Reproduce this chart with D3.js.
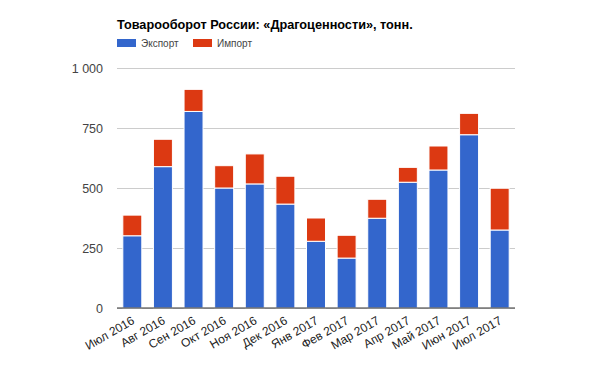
<!DOCTYPE html>
<html>
<head>
<meta charset="utf-8">
<script src="https://cdn.jsdelivr.net/npm/d3@7"></script>
<style>
  body { margin: 0; background: #fff; }
  svg { font-family: Arial, "Liberation Sans", sans-serif; }
</style>
</head>
<body>
<div id="chart"></div>
<script>
var months = ['Июл 2016', 'Авг 2016', 'Сен 2016', 'Окт 2016', 'Ноя 2016', 'Дек 2016', 'Янв 2017',
  'Фев 2017', 'Мар 2017', 'Апр 2017', 'Май 2017', 'Июн 2017', 'Июл 2017']
var exportVals = [301, 589, 819, 500, 517, 433, 278, 208, 374, 524, 575, 722, 325]
var importVals = [86, 114, 92, 93, 125, 116, 97, 95, 79, 62, 100, 89, 174]
var seriesNames = ['Экспорт', 'Импорт']
var seriesColors = ['#3366cc', '#dc3912']
var yTicks = [0, 250, 500, 750, 1000]

var width = 600
var height = 373
var marginLeft = 117
var marginRight = 85
var marginTop = 68
var marginBottom = 65
var W = width - marginLeft - marginRight
var H = height - marginTop - marginBottom

var svg = d3.select('#chart').append('svg')
  .attr('width', width)
  .attr('height', height)

// заголовок и легенда
svg.append('text')
  .attr('x', marginLeft)
  .attr('y', 29)
  .attr('font-size', 12.7)
  .attr('font-weight', 'bold')
  .attr('fill', '#000')
  .text('Товарооборот России: «Драгоценности», тонн.')

var legend = svg.append('g').attr('transform', 'translate(' + marginLeft + ',39)')
var legendX = [0, 76]
seriesNames.forEach(function (name, i) {
  legend.append('rect')
    .attr('x', legendX[i])
    .attr('y', 0)
    .attr('width', 19)
    .attr('height', 8)
    .attr('fill', seriesColors[i])
  legend.append('text')
    .attr('x', legendX[i] + 24)
    .attr('y', 8)
    .attr('font-size', 10)
    .attr('fill', '#444')
    .text(name)
})

var rootG = svg.append('g')
  .attr('transform', 'translate(' + marginLeft + ',' + marginTop + ')')

var X = d3.scaleBand().domain(months).range([0, W]).paddingInner(0.38).paddingOuter(0.19)
var Y = d3.scaleLinear().domain([0, 1000]).range([H, 0])

// сетка
var yAxisG = rootG.append('g')
  .call(d3.axisLeft(Y).tickValues(yTicks).tickSize(-W).tickPadding(14)
    .tickFormat(function (d) { return d3.format(',')(d).replace(/,/g, ' ') }))
yAxisG.select('.domain').remove()
yAxisG.selectAll('line').attr('stroke', '#ccc')
yAxisG.selectAll('text').attr('font-size', 12.5).attr('fill', '#444').attr('font-family', null)

var stackData = months.map(function (m, i) {
  return { m: m, exp: exportVals[i], imp: importVals[i] }
})
var stack = d3.stack().keys(['exp', 'imp'])(stackData)

rootG.append('g').selectAll('g')
  .data(stack)
  .enter()
  .append('g')
  .attr('fill', function (d, i) { return seriesColors[i] })
  .selectAll('rect')
  .data(function (d) { return d })
  .enter()
  .append('rect')
  .attr('x', function (d) { return X(d.data.m) })
  .attr('width', X.bandwidth())
  .attr('y', function (d) { return Y(d[1]) })
  .attr('height', function (d) { return Y(d[0]) - Y(d[1]) })
  .attr('stroke', '#fff')
  .attr('stroke-width', 1)

// базовая линия
rootG.append('line')
  .attr('x1', 0)
  .attr('x2', W)
  .attr('y1', Y(0))
  .attr('y2', Y(0))
  .attr('stroke', '#333')
  .attr('stroke-width', 1)

var xAxisG = rootG.append('g')
  .attr('transform', 'translate(0,' + H + ')')
  .call(d3.axisBottom(X).tickSize(0).tickPadding(0))
xAxisG.select('.domain').remove()
xAxisG.selectAll('text')
  .attr('font-size', 12)
  .attr('fill', '#222')
  .attr('font-family', null)
  .attr('text-anchor', 'end')
  .attr('dy', null)
  .attr('y', 0)
  .attr('transform', 'translate(3,15) rotate(-30)')
</script>
</body>
</html>
